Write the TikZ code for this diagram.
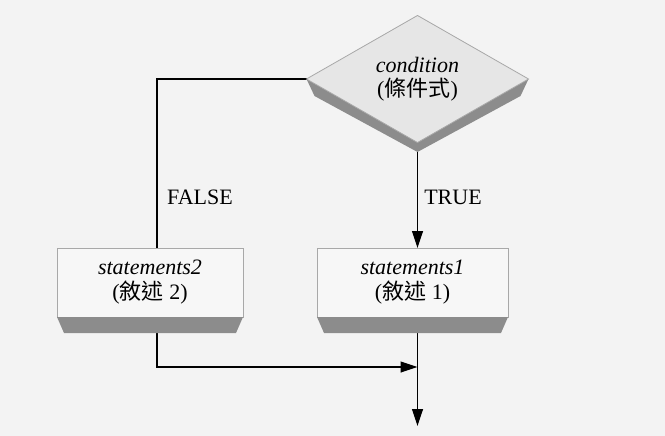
\documentclass[tikz,border=0pt]{standalone}
\usepackage{fontspec}
\setmainfont{Liberation Serif}[ItalicFont={Liberation Serif Italic}]
\newfontfamily\itser{Liberation Serif Italic}
\newfontfamily\cjk{Noto Sans CJK TC}
\usetikzlibrary{shapes.geometric,arrows.meta}
\definecolor{bgc}{HTML}{F3F3F3}
\definecolor{facec}{HTML}{F7F7F7}
\definecolor{dfacec}{HTML}{E6E6E6}
\definecolor{edgec}{HTML}{A8A8A8}
\definecolor{extc}{HTML}{8C8C8C}
\pgfdeclarelayer{bg}
\pgfsetlayers{bg,main}
\begin{document}
\begin{tikzpicture}[x=1pt,y=-1pt,
  font=\fontsize{22}{25}\selectfont,
  face/.style={draw=edgec, fill=facec, line width=0.8pt, outer sep=0pt, inner sep=0pt, align=center},
  ext/.style={fill=extc},
  conn/.style={line width=1.2pt, black},
  arr/.style={conn, -{Triangle[length=17pt,width=11pt]}},
  lbl/.style={inner sep=1pt}]
\useasboundingbox (0,0) rectangle (665,436);
% condition diamond
\fill[ext] (306.5,79) -- (314.5,96) -- (417.5,152) -- (520.5,96) -- (528.5,79) -- (417.5,139) -- cycle;
\node[face, diamond, fill=dfacec, minimum width=222pt, minimum height=122pt] (cond) at (417.5,79)
  {{\itser condition}\\[-1pt](\cjk 條件式\rmfamily)};
% statement boxes
\node[face, minimum width=186pt, minimum height=69pt] (s2) at (150,282.5)
  {{\itser statements2}\\(\cjk 敘述\rmfamily{} 2)};
\node[face, minimum width=191pt, minimum height=69pt] (s1) at (412.5,282.5)
  {{\itser statements1}\\(\cjk 敘述\rmfamily{} 1)};
\fill[ext] (s2.south west) -- ([shift={(7,16)}]s2.south west) -- ([shift={(-7,16)}]s2.south east) -- (s2.south east) -- cycle;
\fill[ext] (s1.south west) -- ([shift={(7,16)}]s1.south west) -- ([shift={(-7,16)}]s1.south east) -- (s1.south east) -- cycle;
% helper points
\coordinate (s2top) at ([xshift=7pt]s2.north);
\coordinate (s2bot) at ([xshift=7pt]s2.south);
\coordinate (merge) at (417.5,367);
\coordinate (exit) at (417.5,426);
% connectors
\begin{pgfonlayer}{bg}
\fill[bgc] (0,0) rectangle (665,436);
\draw[conn] (cond.west) -| (s2top);
\draw[arr] (cond.south) -- (cond.south |- s1.north);
\draw[arr] (s2bot) |- (merge);
\draw[arr] (cond.south |- s1.south) -- (exit);
\end{pgfonlayer}
% labels
\node[lbl] (tf) at (200,197) {FALSE};
\node[lbl] (tt) at (453,197) {TRUE};
\end{tikzpicture}
\end{document}
